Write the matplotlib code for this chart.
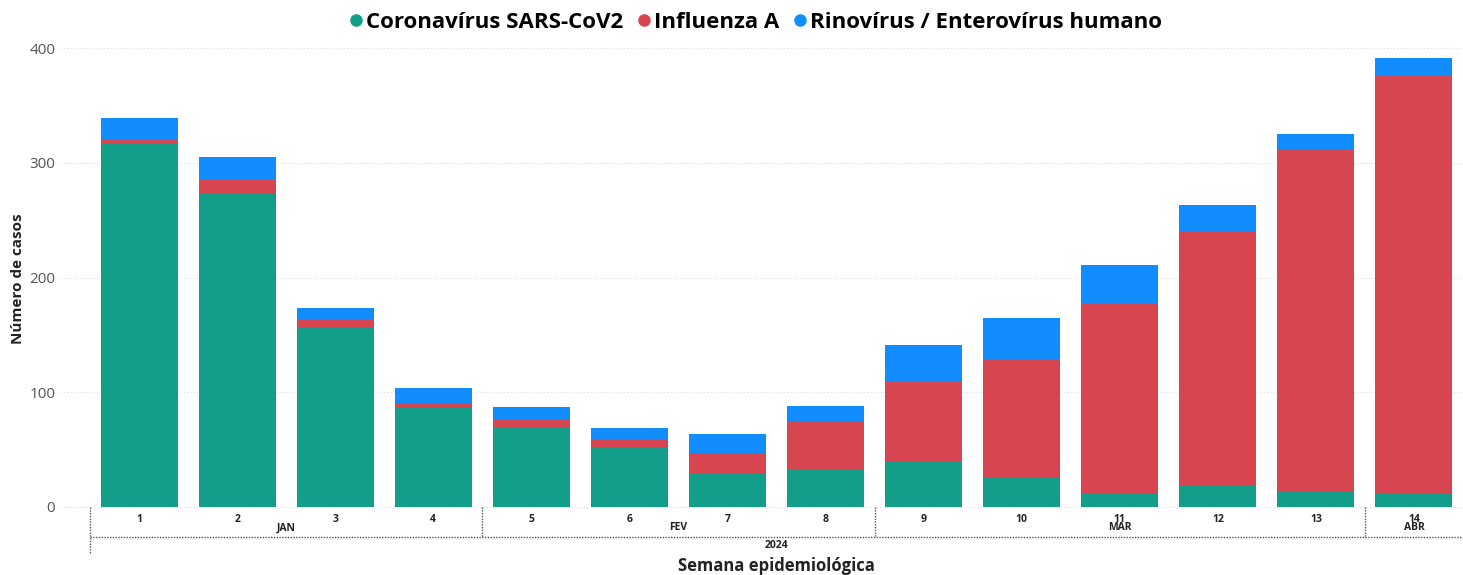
import matplotlib.pyplot as plt
from matplotlib.lines import Line2D
import numpy as np

semanas = list(range(1, 15))
meses = ["JAN"] * 4 + ["FEV"] * 4 + ["MAR"] * 5 + ["ABR"]
ano = "2024"
sars_cov2 = [316, 273, 156, 87, 69, 52, 29, 32, 39, 26, 12, 19, 13, 12]
influenza_a = [4, 12, 7, 4, 7, 6, 18, 42, 70, 103, 165, 221, 298, 364]
rinovirus = [19, 20, 10, 13, 11, 11, 17, 14, 32, 36, 34, 23, 14, 15]

series = ["Coronavírus SARS-CoV2", "Influenza A", "Rinovírus / Enterovírus humano"]
cores = ["#129E88", "#D64550", "#118DFF"]

plt.rcParams['font.family'] = ['Open Sans', 'DejaVu Sans']

W, H = 1463, 575
fig = plt.figure(figsize=(W / 100, H / 100), dpi=100)
# plot area in pixels: x 90..1463, y 48..507
ax = fig.add_axes([90 / W, 1 - 507 / H, (W - 90) / W, (507 - 48) / H])

x = np.arange(len(semanas))
base = np.zeros(len(semanas))
for vals, cor in zip([sars_cov2, influenza_a, rinovirus], cores):
    ax.bar(x, vals, bottom=base, width=0.785, color=cor, zorder=3)
    base += np.array(vals)

ax.set_xlim(-0.5, len(semanas) - 0.5)
ax.set_ylim(0, 400)
for s in ax.spines.values():
    s.set_visible(False)

ax.set_yticks([0, 100, 200, 300, 400])
ax.tick_params(axis='y', length=0, pad=25, labelsize=11, labelcolor='#555555')
for v in [0, 100, 200, 300, 400]:
    ax.plot([-0.022, 1], [v, v], transform=ax.get_yaxis_transform(), clip_on=False,
            color='#dddddd', lw=0.8, ls=(0, (1, 2)), zorder=1)

ax.set_xticks(x)
ax.set_xticklabels([str(s) for s in semanas], fontsize=7.5, fontweight='bold', color='#222222')
ax.tick_params(axis='x', length=0, pad=5)

def ay(py):
    return (507 - py) / (507 - 48)

trans = ax.get_xaxis_transform()
line_kw = dict(color='#555555', lw=1.0, ls=(0, (1, 1)), clip_on=False, transform=trans)

# month labels and separators
grupos = []
for i, m in enumerate(meses):
    if not grupos or grupos[-1][0] != m:
        grupos.append([m, i, i])
    else:
        grupos[-1][2] = i
for m, a, b in grupos:
    ax.text((a + b) / 2, ay(528), m, transform=trans, ha='center', va='center',
            fontsize=7.5, fontweight='bold', color='#222222')
    if a > 0:
        ax.plot([a - 0.5, a - 0.5], [ay(507), ay(537)], **line_kw)
ax.plot([-0.5, -0.5], [ay(507), ay(554)], **line_kw)
ax.plot([-0.5, len(semanas) - 0.5], [ay(537), ay(537)], **line_kw)
ax.text((len(semanas) - 1) / 2, ay(545), ano, transform=trans, ha='center', va='center',
        fontsize=7.5, fontweight='bold', color='#222222')

ax.text((len(semanas) - 1) / 2, ay(566), "Semana epidemiológica", transform=trans,
        ha='center', va='center', fontsize=12, fontweight='bold', color='#222222')
fig.text(18 / W, 1 - 279 / H, "Número de casos", rotation=90, ha='center', va='center',
         fontsize=11, fontweight='bold', color='#222222')

handles = [Line2D([], [], marker='o', ls='', color=c, markersize=8) for c in cores]
fig.legend(handles, series, loc='center', bbox_to_anchor=(754 / W, 1 - 22 / H), ncol=3,
           frameon=False, prop={'size': 16, 'weight': 'bold'}, handletextpad=0.0,
           columnspacing=0.5, handlelength=0.9, borderaxespad=0)

fig.savefig("out.png", dpi=100)
